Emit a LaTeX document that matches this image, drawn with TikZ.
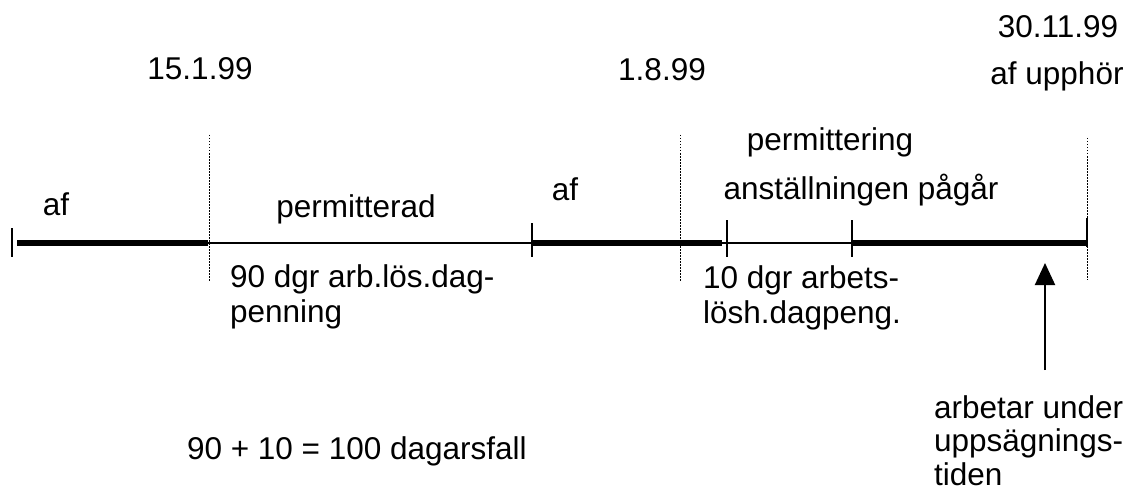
\documentclass[tikz,border=0pt]{standalone}
\usepackage{fontspec}
\setmainfont{Liberation Sans}
\usetikzlibrary{arrows.meta}
\begin{document}
\begin{tikzpicture}[x=1pt,y=-1pt,
  lbl/.style={inner sep=0pt,outer sep=0pt,font=\fontsize{31.5}{35}\selectfont},
  lblb/.style={lbl,font=\fontsize{31.5}{33.5}\selectfont},
  thickseg/.style={line width=6pt,line cap=butt},
  thinseg/.style={line width=2pt,line cap=butt},
  tickmark/.style={line width=2pt},
  guide/.style={line width=1pt,dash pattern=on 1.5pt off 1.5pt},
  pointer/.style={line width=2pt,-{Triangle[width=20pt,length=22pt]}}]
\useasboundingbox[fill=white] (0,0) rectangle (1135,492);
% timeline points
\coordinate (p0) at (12,243);
\coordinate (a0) at (17,243);
\coordinate (p1) at (208,243);
\coordinate (p2) at (532,243);
\coordinate (p3) at (722,243);
\coordinate (p4) at (727,243);
\coordinate (p5) at (852,243);
\coordinate (p6) at (1087,243);
% segments
\draw[thickseg] (a0) -- (p1);
\draw[thinseg] (p1) -- (p2);
\draw[thickseg] (p2) -- (p3);
\draw[thinseg] (p3) -- (p5);
\draw[thickseg] (p5) -- (p6);
% tick marks
\coordinate (t0a) at (12,228); \coordinate (t0b) at (12,257);
\coordinate (t2a) at (532,223); \coordinate (t2b) at (532,257);
\coordinate (t4a) at (727,220); \coordinate (t4b) at (727,257);
\coordinate (t5a) at (852,220); \coordinate (t5b) at (852,257);
\coordinate (t6a) at (1087,218); \coordinate (t6b) at (1087,247);
\draw[tickmark] (t0a) -- (t0b);
\draw[tickmark] (t2a) -- (t2b);
\draw[tickmark] (t4a) -- (t4b);
\draw[tickmark] (t5a) -- (t5b);
\draw[tickmark] (t6a) -- (t6b);
% dotted guides
\coordinate (g1a) at (209,135); \coordinate (g1b) at (209,282);
\coordinate (g2a) at (680,135); \coordinate (g2b) at (680,282);
\coordinate (g3a) at (1087,138); \coordinate (g3b) at (1087,280);
\draw[guide] (g1a) -- (g1b);
\draw[guide] (g2a) -- (g2b);
\draw[guide] (g3a) -- (g3b);
% arrow
\coordinate (arrtail) at (1045,370);
\coordinate (arrtip) at (1045,263);
\draw[pointer] (arrtail) -- (arrtip);
% labels
\node[lbl,anchor=base] (d1) at (200,80) {15.1.99};
\node[lbl,anchor=base] (d2) at (662,81) {1.8.99};
\node[lbl,anchor=base] (d3) at (1058,38) {30.11.99};
\node[lbl,anchor=base] (d3b) at (1057,85) {af upphör};
\node[lbl,anchor=base] (perm2) at (830,150) {permittering};
\node[lbl,anchor=base] (anst) at (861,199) {anställningen pågår};
\node[lbl,anchor=base] (af1) at (56,215) {af};
\node[lbl,anchor=base] (perm1) at (356,217) {permitterad};
\node[lbl,anchor=base] (af2) at (565,200) {af};
\node[lbl,anchor=base west,align=left] (dag90) at (230,322) {90 dgr arb.lös.dag-\\penning};
\node[lbl,anchor=base west,align=left] (dag10) at (703,323) {10 dgr arbets-\\lösh.dagpeng.};
\node[lbl,anchor=base west] (sum) at (187,459) {90 + 10 = 100 dagarsfall};
\node[lblb,anchor=base west,align=left] (arb) at (934,485) {arbetar under\\uppsägnings-\\tiden};
\end{tikzpicture}
\end{document}
